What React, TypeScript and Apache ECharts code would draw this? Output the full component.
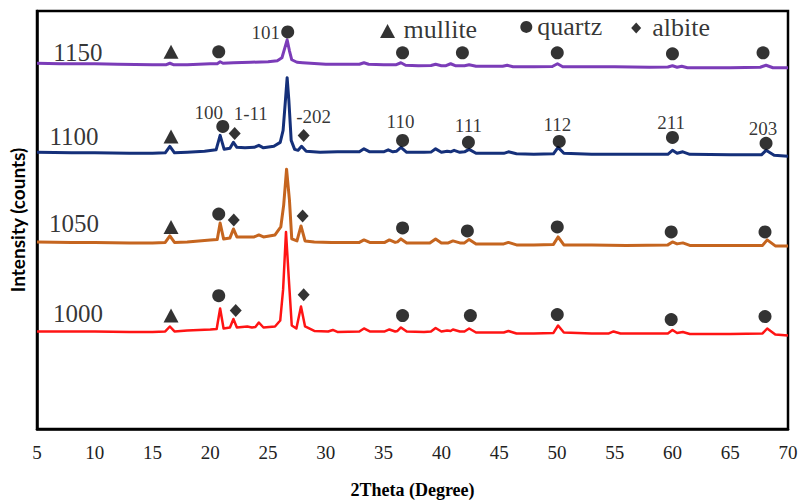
import React, { useEffect, useRef } from "react";
import * as echarts from "echarts";

// XRD patterns (2θ in degrees, stacked intensity in arbitrary counts)
const s1150: [number, number][] = [[5,367.5],[7,367],[10,367],[12,366.5],[15,366],[16.2,366],[16.5,367.5],[16.8,366],[18,366],[20,367],[20.6,367],[20.85,369],[21.1,367.5],[22,368],[23.5,368.5],[25,369],[25.8,370],[26.2,373],[26.45,383],[26.65,391],[26.85,380],[27.05,371],[27.5,368.5],[28,368],[30,366.5],[32,366.5],[32.9,366.5],[33.3,368],[33.7,366.5],[35,366],[36.1,366],[36.5,368],[36.9,365.5],[38,365],[39.1,365.2],[39.5,366.5],[40,365],[40.4,365],[40.8,367],[41.2,365],[42.0,365],[42.4,366],[43,364.5],[45.3,364.5],[45.7,365.5],[46.2,364],[48,364],[49.6,364.2],[50.05,367],[50.5,364],[55,364],[58,363.5],[59.6,363.8],[60,365],[60.4,363.5],[60.8,364.5],[61.3,363],[65,363],[67.6,363.5],[68.1,365.5],[68.7,363],[70,363]];
const s1100: [number, number][] = [[5,278],[8,277.5],[10,277.5],[13,277],[15,277],[16.1,277.5],[16.5,284],[16.9,277.5],[18,278],[19.5,279],[20.5,280.5],[20.85,295],[21.2,281],[21.7,282],[22.0,288],[22.3,283],[23,282.5],[23.8,283],[24.2,285],[24.6,282.5],[25.5,284],[26.05,288],[26.3,300],[26.5,330],[26.65,353],[26.8,330],[27.0,290],[27.3,281],[27.6,280],[27.9,284],[28.3,279],[29.5,278],[31,278.5],[32.9,278.5],[33.3,281.5],[33.8,278.5],[35.0,278.5],[35.4,280.5],[35.8,278.5],[36.1,279],[36.5,283],[37,278],[38.5,278],[39.1,278.2],[39.5,281.5],[40,278],[40.5,279],[40.8,278.5],[41.1,280],[41.6,278],[42.0,278.5],[42.4,281],[43,277],[45.4,277],[45.8,278.5],[46.5,276.5],[48,276],[49.7,276.5],[50.1,283],[50.6,277],[53,276],[56,276],[59.6,276],[60,280],[60.4,277],[60.9,278.5],[61.5,276],[65,275.5],[67.7,275.5],[68.1,280],[68.8,275],[70,274]];
const s1050: [number, number][] = [[5,188],[8,187.5],[10,187.5],[13,187],[15,187],[16.1,187.5],[16.5,194],[16.9,187.5],[18,188],[20,190],[20.6,190.5],[20.85,207],[21.15,191],[21.7,192],[22.0,201],[22.3,193],[23,193],[23.8,193],[24.2,195],[24.6,193],[25.6,195],[26.1,203],[26.35,225],[26.6,261],[26.85,230],[27.05,191],[27.5,189],[27.85,204],[28.2,189],[29,188],[30.5,187.5],[32,187.5],[32.9,187.5],[33.3,190],[33.8,187.5],[35.1,187.5],[35.5,190],[36,187.5],[36.2,188],[36.5,191],[37,187],[39,187],[39.5,191],[40,187],[40.6,187],[41,189],[41.6,187],[42.0,187],[42.4,190.5],[43,186],[45.4,186],[45.8,187.5],[46.5,185],[48,185],[49.7,185.5],[50.1,193],[50.6,185],[53,185],[56,184.5],[59.6,185],[60,188],[60.4,186],[60.9,187],[61.5,184.5],[65,184.5],[67.8,184.5],[68.2,190],[68.9,184],[70,184]];
const s1000: [number, number][] = [[5,98],[8,98],[10,98],[13,97.5],[15,97.5],[16.1,98],[16.5,103],[16.9,98],[18,99],[20,100],[20.55,100.5],[20.85,121],[21.15,101],[21.7,102],[22.0,110.5],[22.3,102],[23.2,103],[23.6,102],[23.9,102.5],[24.2,107],[24.6,102],[25.6,103],[26.05,109],[26.3,140],[26.55,198],[26.8,150],[27.05,104],[27.45,101],[27.85,123],[28.2,103],[29,98.5],[30.2,98],[30.6,99.5],[31,97.5],[32.9,98],[33.3,101],[33.8,98],[35.1,98],[35.5,100],[36,98],[36.2,98.5],[36.5,102],[37,98],[38.5,97.5],[39.1,98],[39.5,101.5],[40,98],[40.5,99],[40.8,98.5],[41,100],[41.6,98],[42.0,98],[42.4,101],[43,97],[45.4,97],[45.8,98.5],[46.5,96],[48,96],[49.7,96.5],[50.1,104],[50.6,97],[53,96],[54.5,96],[54.9,98],[55.5,96],[58,96],[59.6,96],[60,99.5],[60.4,96.5],[60.9,97.5],[61.5,95.5],[65,95.5],[67.8,96],[68.2,101],[68.9,95],[70,94]];

// Phase markers
const mulliteMarks: [number, number][] = [[16.6,379],[16.6,294],[16.6,203],[16.6,114]];
const quartzMarks: [number, number][] = [
  [20.73,379],[26.7,399],[36.64,378],[41.82,378],[50.03,378],[60.0,377],[67.84,378],
  [21.08,304],[36.64,290],[42.34,288],[50.2,289],[60.0,293],[68.1,287],
  [20.73,216],[36.64,202],[42.25,199],[50.03,203],[59.89,198],[68.01,198],
  [20.73,134],[36.64,114],[42.51,114],[50.03,115],[59.89,110],[68.01,113]
];
const albiteMarks: [number, number][] = [[22.11,297],[28.08,295],[22.03,210],[27.99,214],[22.2,119],[28.08,135]];

// Legend keys
const legendSymbols = [
  { symbol: "triangle", x: 35.34, y: 400, size: [15, 14] },
  { symbol: "circle", x: 47.35, y: 404, size: [12, 12] },
  { symbol: "diamond", x: 56.86, y: 403, size: [10, 11] },
];
const legendTexts = [
  { name: "mullite", x: 36.72, y: 401 },
  { name: "quartz", x: 48.3, y: 404 },
  { name: "albite", x: 58.25, y: 403 },
];

// Sample temperature labels
const tempLabels = [
  { name: "1150", x: 8.54, y: 378 },
  { name: "1100", x: 8.2, y: 294 },
  { name: "1050", x: 8.2, y: 206 },
  { name: "1000", x: 8.54, y: 116 },
];

// Miller index labels
const hklLabels = [
  { name: "101", x: 24.8, y: 398 },
  { name: "100", x: 19.87, y: 318 },
  { name: "1-11", x: 23.5, y: 317 },
  { name: "-202", x: 28.94, y: 314 },
  { name: "110", x: 36.46, y: 309 },
  { name: "111", x: 42.34, y: 305 },
  { name: "112", x: 50.03, y: 306 },
  { name: "211", x: 59.89, y: 308 },
  { name: "203", x: 67.84, y: 302 },
];

const xTicks = [5, 10, 15, 20, 25, 30, 35, 40, 45, 50, 55, 60, 65, 70];

const SERIF = "'Liberation Serif', 'Times New Roman', serif";

export default function App() {
  const ref = useRef<HTMLDivElement>(null);
  useEffect(() => {
    if (!ref.current) return;
    document.body.style.margin = "0";
    const chart = echarts.init(ref.current, null, { renderer: "svg" });

    const lineSeries = (name: string, data: [number, number][], color: string, width: number) => ({
      name,
      type: "line",
      data,
      showSymbol: false,
      symbol: "none",
      smooth: false,
      lineStyle: { color, width, join: "round" },
      z: 2,
    });

    const textSeries = (items: { name: string; x: number; y: number }[], fontSize: number, align: string) => ({
      type: "scatter",
      symbol: "circle",
      symbolSize: 1,
      itemStyle: { color: "rgba(0,0,0,0)" },
      z: 4,
      silent: true,
      label: {
        show: true,
        position: "inside",
        formatter: (p: any) => p.name,
        fontFamily: SERIF,
        fontSize,
        color: "#000",
        align,
        verticalAlign: "middle",
      },
      labelLayout: { hideOverlap: false },
      data: items.map((d) => ({ name: d.name, value: [d.x, d.y] })),
    });

    chart.setOption({
      animation: false,
      backgroundColor: "#fff",
      grid: {
        left: 36,
        right: 15,
        top: 11,
        bottom: 73,
        show: true,
        borderColor: "#000",
        borderWidth: 2.5,
        backgroundColor: "transparent",
      },
      xAxis: {
        type: "value",
        min: 5,
        max: 70,
        interval: 5,
        axisLine: { show: true, lineStyle: { color: "#000", width: 2.5 } },
        axisTick: { show: false },
        splitLine: { show: false },
        axisLabel: {
          fontFamily: SERIF,
          fontSize: 19,
          color: "#222",
          margin: 14,
          formatter: (v: number) => (xTicks.includes(v) ? String(v) : ""),
        },
        name: "2Theta (Degree)",
        nameLocation: "middle",
        nameGap: 52,
        nameTextStyle: { fontFamily: SERIF, fontSize: 18, fontWeight: "bold", color: "#000" },
      },
      yAxis: {
        type: "value",
        min: 0,
        max: 420,
        axisLine: { show: true, lineStyle: { color: "#000", width: 2.5 } },
        axisTick: { show: false },
        axisLabel: { show: false },
        splitLine: { show: false },
        name: "Intensity (counts)",
        nameLocation: "middle",
        nameGap: 10,
        nameTextStyle: { fontFamily: "Lato, 'Open Sans', sans-serif", fontSize: 19, fontWeight: "bold", color: "#000" },
      },
      series: [
        lineSeries("1150", s1150, "#7B3CB8", 3),
        lineSeries("1100", s1100, "#15307A", 3),
        lineSeries("1050", s1050, "#C5651F", 3),
        lineSeries("1000", s1000, "#FF1414", 2.5),
        {
          name: "mullite",
          type: "scatter",
          symbol: "triangle",
          symbolSize: [15, 14],
          itemStyle: { color: "#000" },
          z: 5,
          data: mulliteMarks,
        },
        {
          name: "quartz",
          type: "scatter",
          symbol: "circle",
          symbolSize: 13,
          itemStyle: { color: "#000" },
          z: 5,
          data: quartzMarks,
        },
        {
          name: "albite",
          type: "scatter",
          symbol: "diamond",
          symbolSize: [12, 13],
          itemStyle: { color: "#000" },
          z: 5,
          data: albiteMarks,
        },
        {
          type: "scatter",
          z: 5,
          itemStyle: { color: "#000" },
          data: legendSymbols.map((d) => ({ value: [d.x, d.y], symbol: d.symbol, symbolSize: d.size })),
        },
        textSeries(legendTexts, 26, "left"),
        textSeries(tempLabels, 25, "center"),
        textSeries(hklLabels, 19, "center"),
      ],
    });
    return () => chart.dispose();
  }, []);
  return <div ref={ref} style={{ width: 803, height: 504 }} />;
}
